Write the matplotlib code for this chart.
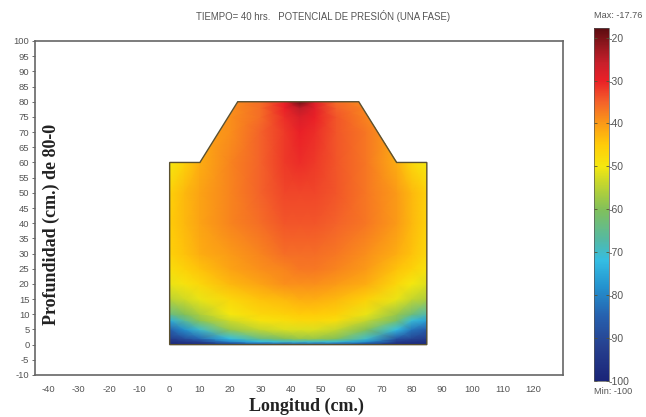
import numpy as np
import matplotlib
matplotlib.use("Agg")
import matplotlib.pyplot as plt
from matplotlib.colors import LinearSegmentedColormap, Normalize
from matplotlib.patches import Polygon

title = "TIEMPO= 40 hrs.   POTENCIAL DE PRESIÓN (UNA FASE)"
x_label = "Longitud (cm.)"
y_label = "Profundidad (cm.) de 80-0"
x_ticks = list(range(-40, 121, 10))
y_ticks = list(range(-10, 101, 5))
cbar_ticks = [-20, -30, -40, -50, -60, -70, -80, -90, -100]
v_max = -17.76
v_min = -100

outline_x = [0, 0, 10, 22.5, 62.5, 75, 85, 85]
outline_y = [0, 60, 60, 80, 80, 60, 60, 0]

grid_x = [0, 5, 10, 20, 30, 38, 43, 48, 55, 65, 75, 80, 85]
grid_y = [0, 1, 2, 5, 8, 10, 15, 20, 25, 30, 40, 50, 60, 70, 75, 78, 80]
potential = [
    [-98, -98, -98, -96, -92, -90, -88, -88, -90, -95, -98, -98, -98],
    [-96, -94, -92, -80, -72, -70, -70, -70, -71, -78, -93, -95, -96],
    [-93, -89, -84, -72, -64, -60, -58, -58, -60, -70, -88, -91, -93],
    [-85, -78, -70, -58, -54, -52, -52, -52, -54, -60, -72, -82, -86],
    [-74, -66, -59, -53, -49, -48, -47, -47, -48, -54, -61, -71, -76],
    [-64, -60, -56, -50, -47, -46, -45, -45, -46, -51, -58, -63, -68],
    [-55, -53, -51, -47, -44, -43, -42, -42, -43, -46, -51, -54, -56],
    [-51, -49, -47, -43, -41, -39, -39, -39, -40, -42, -47, -50, -52],
    [-48, -46, -44, -41, -39, -38, -37, -37, -38, -40, -44, -46, -49],
    [-46, -44, -42, -40, -38, -36, -36, -36, -37, -39, -42, -44, -47],
    [-45, -43, -41, -38, -36, -34, -34, -34, -35, -37, -40, -43, -46],
    [-46, -43, -41, -38, -35, -33, -33, -33, -34, -37, -40, -43, -46],
    [-50, -46, -42, -38, -35, -32, -31, -32, -34, -37, -42, -47, -50],
    [-44, -43, -41, -39, -35, -32, -30, -31, -34, -37, -41, -43, -44],
    [-43, -42, -41, -39, -36, -31, -28, -30, -34, -38, -41, -43, -44],
    [-43, -42, -41, -39, -36, -30, -25, -29, -35, -38, -41, -43, -44],
    [-42, -42, -41, -39, -36, -30, -19, -29, -36, -39, -41, -43, -44],
]

cmap_values = [-100, -92, -85, -78, -72, -67, -60, -54, -50, -45, -40, -35, -30, -26, -22, -17.76]
cmap_colors = ["#1a2478", "#26408f", "#2660ae", "#2493cf", "#34bde3", "#55b9a2",
               "#82c05a", "#c4d62e", "#f5e80f", "#ffcc08", "#fb9a17", "#f4622a",
               "#ea2027", "#c91f2b", "#96181f", "#5a0c10"]

norm = Normalize(v_min, v_max)
cmap = LinearSegmentedColormap.from_list(
    "presion", [(norm(v), c) for v, c in zip(cmap_values, cmap_colors)], N=512)

plt.rcParams["font.family"] = ["Liberation Sans", "DejaVu Sans"]
plt.rcParams["axes.unicode_minus"] = False
gray = "#555555"
fig = plt.figure(figsize=(6.46, 4.17), dpi=100)

W, H = 646, 417
ax = fig.add_axes([35 / W, 1 - 375 / H, (563 - 35) / W, (375 - 41) / H])
xx, yy = np.meshgrid(grid_x, grid_y)
mesh = ax.pcolormesh(xx, yy, np.array(potential, dtype=float), shading="gouraud",
                     cmap=cmap, norm=norm, rasterized=True)
shape = Polygon(np.column_stack([outline_x, outline_y]), closed=True, fill=False,
                edgecolor="#5a5030", linewidth=1.0, zorder=3)
ax.add_patch(shape)
mesh.set_clip_path(shape)

ax.set_xlim(-44.5, 130)
ax.set_ylim(-10, 100)
ax.set_xticks(x_ticks)
ax.set_yticks(y_ticks)
ax.tick_params(axis="both", length=2, width=0.6, color=gray, labelcolor=gray, labelsize=6.8, pad=2)
ax.tick_params(axis="x", pad=7, length=0)
for s in ax.spines.values():
    s.set_color("#666666")
    s.set_linewidth(1.2)

fig.text(323 / W, 1 - 16 / H, title, ha="center", va="center", fontsize=6.9, color=gray)
fig.text(306 / W, 1 - 406 / H, x_label, ha="center", va="center", fontsize=13,
         fontweight="bold", family="Liberation Serif", color="#222222")
fig.text(51 / W, 1 - 224 / H, y_label, ha="center", va="center", rotation=90, fontsize=13,
         fontweight="bold", family="Liberation Serif", color="#222222")

cax = fig.add_axes([594 / W, 1 - 381 / H, 15 / W, (381 - 28) / H])
cb = fig.colorbar(mesh, cax=cax)
cb.set_ticks(cbar_ticks)
cb.set_ticklabels([str(t) for t in cbar_ticks])
cb.ax.tick_params(length=2, width=0.6, color="#555533", labelcolor=gray, labelsize=7.5, pad=0,
                  direction="in", left=True, right=True)
cb.outline.set_edgecolor("#555555")
cb.outline.set_linewidth(0.5)
fig.text(594 / W, 1 - 16 / H, "Max: -17.76", ha="left", va="center", fontsize=6.6, color=gray)
fig.text(594 / W, 1 - 391 / H, "Min: -100", ha="left", va="center", fontsize=6.6, color=gray)

fig.savefig("out.png", dpi=100)
